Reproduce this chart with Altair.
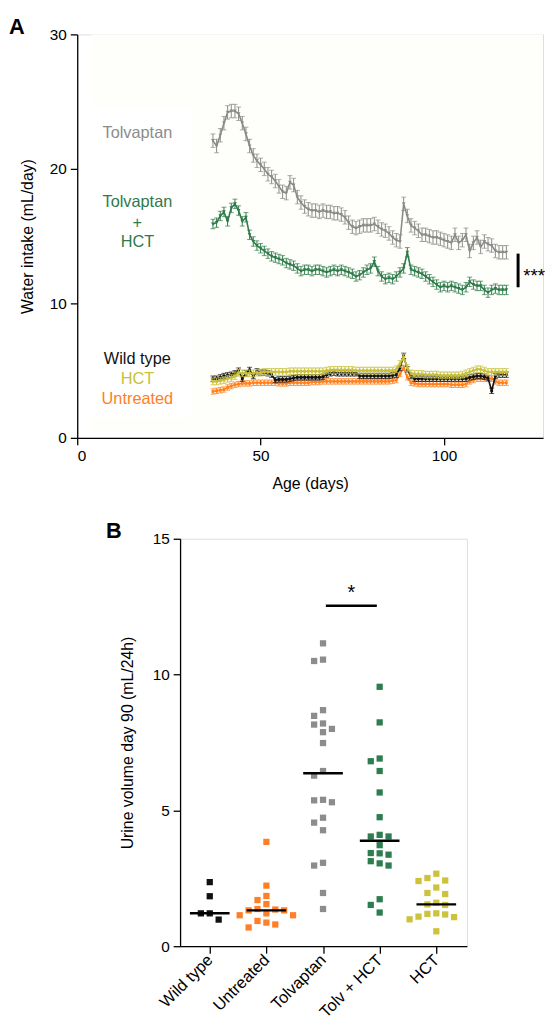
import altair as alt
import pandas as pd

FONT = "Liberation Sans"

# ---------------- Panel A data (mean water intake, mL/day) ----------------
days = list(range(37, 118))
tolvaptan = [22.1, 21.7, 22.5, 23.4, 24.2, 24.3, 24.3, 24.1, 23.4, 22.6,
             21.7, 21.0, 20.6, 20.3, 20.0, 19.6, 19.4, 19.1, 18.7, 18.3,
             18.2, 19.0, 18.8, 17.9, 17.5, 17.2, 17.0, 16.9, 16.9, 16.8,
             16.9, 16.8, 16.8, 16.7, 16.7, 16.6, 16.4, 16.0, 15.7, 15.6,
             15.7, 15.8, 15.8, 15.8, 15.9, 15.7, 15.5, 15.4, 15.2, 14.9,
             14.7, 14.6, 17.4, 16.5, 15.8, 15.6, 15.4, 15.1, 15.1, 15.0,
             14.9, 14.9, 14.8, 14.7, 14.6, 14.5, 15.1, 14.5, 14.7, 15.1,
             13.9, 14.5, 14.9, 14.2, 14.6, 14.4, 14.3, 13.9, 13.8, 13.8, 13.8]
tolv_hct = [15.9, 16.0, 16.5, 16.8, 16.1, 17.1, 17.4, 16.9, 16.1, 16.4,
            15.1, 14.6, 14.3, 14.1, 13.9, 13.7, 13.5, 13.4, 13.3, 13.2,
            13.0, 12.9, 12.8, 12.6, 12.4, 12.5, 12.5, 12.4, 12.5, 12.5,
            12.4, 12.3, 12.4, 12.5, 12.4, 12.5, 12.4, 12.3, 12.2, 12.0,
            12.1, 12.3, 12.5, 12.6, 13.1, 12.4, 12.0, 11.8, 11.9, 11.8,
            12.0, 12.3, 12.6, 13.8, 12.5, 12.4, 12.3, 12.2, 12.0, 11.8,
            11.6, 11.4, 11.2, 11.3, 11.2, 11.3, 11.2, 11.1, 11.0, 11.2,
            11.6, 11.4, 11.3, 11.3, 11.0, 10.8, 11.0, 11.1, 11.0, 11.0, 11.0]
wild_type = [4.4, 4.4, 4.5, 4.6, 4.65, 4.7, 4.8, 5.0, 4.4, 4.8,
             5.05, 4.6, 4.95, 4.85, 4.85, 4.8, 4.7, 4.3, 4.35, 4.35,
             4.35, 4.4, 4.45, 4.5, 4.5, 4.5, 4.5, 4.5, 4.5, 4.5,
             4.55, 4.7, 4.8, 4.85, 4.8, 4.8, 4.8, 4.8, 4.8, 4.8,
             4.6, 4.6, 4.6, 4.6, 4.6, 4.6, 4.6, 4.6, 4.6, 4.65,
             4.7, 5.2, 6.1, 5.1, 4.6, 4.4, 4.4, 4.4, 4.4, 4.4,
             4.4, 4.4, 4.4, 4.4, 4.4, 4.4, 4.4, 4.4, 4.4, 4.4,
             4.5, 4.55, 4.6, 4.6, 4.55, 4.45, 3.5, 4.6, 4.7, 4.7, 4.7]
hct = [4.2, 4.2, 4.25, 4.3, 4.4, 4.45, 4.6, 4.85, 4.8, 4.8,
       4.8, 4.8, 4.85, 4.85, 4.9, 4.9, 4.9, 4.9, 4.9, 4.9,
       4.9, 4.95, 4.95, 4.95, 4.95, 4.95, 4.95, 4.95, 4.95, 4.95,
       4.95, 5.0, 5.05, 5.05, 5.05, 5.05, 5.05, 5.05, 5.05, 5.0,
       5.0, 5.0, 5.0, 5.0, 5.0, 5.0, 5.0, 5.0, 5.0, 5.0,
       5.1, 5.5, 6.0, 5.2, 4.8, 4.75, 4.75, 4.75, 4.7, 4.7,
       4.7, 4.7, 4.65, 4.65, 4.65, 4.65, 4.65, 4.65, 4.7, 4.8,
       4.9, 5.0, 5.1, 5.1, 5.0, 4.9, 4.9, 4.9, 4.9, 4.9, 4.9]
untreated = [3.45, 3.5, 3.55, 3.6, 3.75, 3.85, 3.95, 4.0, 4.05, 4.05,
             4.05, 4.1, 4.1, 4.1, 4.1, 4.1, 4.1, 4.1, 4.05, 4.05,
             4.05, 4.1, 4.1, 4.1, 4.1, 4.1, 4.1, 4.15, 4.15, 4.15,
             4.2, 4.2, 4.2, 4.2, 4.2, 4.2, 4.2, 4.2, 4.2, 4.2,
             4.2, 4.2, 4.2, 4.2, 4.2, 4.2, 4.2, 4.2, 4.2, 4.25,
             4.3, 4.75, 5.2, 4.5, 4.1, 4.05, 4.0, 4.0, 4.0, 4.0,
             4.0, 4.0, 4.0, 4.0, 4.0, 3.95, 3.95, 3.95, 3.95, 4.0,
             4.2, 4.3, 4.4, 4.4, 4.4, 4.4, 4.4, 4.2, 4.1, 4.1, 4.1]
sem = {"Tolvaptan": 0.5, "Tolvaptan + HCT": 0.35, "Untreated": 0.2,
       "Wild type": 0.2, "HCT": 0.25}

# legend labels of panel A
a_label_text = ["Tolvaptan", "Tolvaptan", "+", "HCT", "Wild type", "HCT", "Untreated"]
a_label_color = ["#8c8c8c", "#2f7a4b", "#2f7a4b", "#2f7a4b", "#111111", "#c8bf3a", "#ff801f"]

# ---------------- Panel B data (urine volume day 90, mL/24h) ----------------
groups = ["Wild type", "Untreated", "Tolvaptan", "Tolv + HCT", "HCT"]
group_colors = ["#111111", "#ff7f27", "#8c8c8c", "#2e7d50", "#cdc23c"]
b_wild_type = [2.36, 1.84, 1.21, 1.21, 0.98]
b_untreated = [3.84, 2.23, 1.85, 1.70, 1.55, 1.37, 1.35, 1.32, 1.32, 1.21,
               1.14, 1.14, 0.93, 0.87, 0.80, 0.69]
b_tolvaptan = [11.15, 10.55, 10.5, 8.69, 8.48, 8.2, 8.16, 8.0, 7.88, 7.48,
               6.45, 6.28, 5.39, 5.37, 5.3, 4.73, 4.55, 4.27, 3.07, 2.97, 1.96, 1.37]
b_tolv_hct = [9.55, 8.24, 6.91, 6.81, 6.45, 5.66, 4.75, 4.1, 4.04, 4.04,
              3.72, 3.43, 3.42, 3.37, 3.13, 3.05, 2.97, 1.73, 1.52, 1.24]
b_hct = [2.67, 2.51, 2.42, 2.40, 2.16, 1.96, 1.92, 1.60, 1.54, 1.52, 1.21,
         1.19, 1.17, 1.09, 1.07, 0.99, 0.55]
b_values = [b_wild_type, b_untreated, b_tolvaptan, b_tolv_hct, b_hct]

# =========================== Panel A ===========================
AX = dict(domainColor="black", tickColor="black", domainWidth=1.3, tickWidth=1.3,
          labelColor="black", titleColor="black", labelFontSize=15.5, titleFontSize=16,
          titleFontWeight="normal", grid=False, labelFont=FONT, titleFont=FONT)

xs_a = alt.Scale(domain=[0, 127], nice=False, zero=False)
ys_a = alt.Scale(domain=[0, 30], nice=False)
x_axis_a = alt.Axis(values=[0, 50, 100], title="Age (days)", tickSize=7,
                    labelPadding=4, titlePadding=12, **AX)
y_axis_a = alt.Axis(values=[0, 10, 20, 30], title="Water intake (mL/day)", tickSize=7,
                    labelPadding=4, titlePadding=14, **AX)


def XA(field):
    return alt.X(field, scale=xs_a, axis=x_axis_a)


def YA(field):
    return alt.Y(field, scale=ys_a, axis=y_axis_a)


bg = pd.DataFrame({"x1": [3.8, 3.8], "x2": [127, 31], "y1": [0.3, 1.5], "y2": [30, 24.5],
                   "c": ["#fefefa", "#ffffff"]})
layers_a = [
    alt.Chart(bg).mark_rect().encode(x=XA("x1:Q"), x2="x2:Q", y=YA("y1:Q"), y2="y2:Q",
                                     color=alt.Color("c:N", scale=None))
]

series_specs = [
    ("Untreated", untreated, "#ff801f", "square", 8),
    ("Wild type", wild_type, "#111111", "square", 8),
    ("HCT", hct, "#c8bf3a", "square", 8),
    ("Tolvaptan + HCT", tolv_hct, "#2f7a4b", "triangle-down", 14),
    ("Tolvaptan", tolvaptan, "#8a8a8a", "triangle-down", 14),
]
for name, vals, color, shape, size in series_specs:
    df = pd.DataFrame({"day": days, "value": vals})
    df["lo"] = df["value"] - sem[name]
    df["hi"] = df["value"] + sem[name]
    base = alt.Chart(df)
    layers_a += [
        base.mark_rule(color=color, strokeWidth=1).encode(x=XA("day:Q"), y=YA("lo:Q"), y2="hi:Q"),
        base.mark_tick(color=color, orient="horizontal", size=5, thickness=1).encode(
            x=XA("day:Q"), y=YA("lo:Q")),
        base.mark_tick(color=color, orient="horizontal", size=5, thickness=1).encode(
            x=XA("day:Q"), y=YA("hi:Q")),
        base.mark_line(color=color, strokeWidth=1.6).encode(x=XA("day:Q"), y=YA("value:Q")),
        base.mark_point(color=color, filled=True, shape=shape, size=size, opacity=1).encode(
            x=XA("day:Q"), y=YA("value:Q")),
    ]

lab_a = pd.DataFrame({"t": a_label_text, "c": a_label_color,
                      "x": [16.4] * 7,
                      "y": [22.7, 17.5, 15.95, 14.55, 5.88, 4.41, 2.87]})
layers_a.append(
    alt.Chart(lab_a).mark_text(font=FONT, fontSize=16.5).encode(
        x=XA("x:Q"), y=YA("y:Q"), text="t:N", color=alt.Color("c:N", scale=None))
)
sig_a = pd.DataFrame({"x": [120.2], "y1": [11.2], "y2": [13.7], "tx": [121.6], "ty": [12.0]})
layers_a += [
    alt.Chart(sig_a).mark_rule(color="black", strokeWidth=3).encode(
        x=XA("x:Q"), y=YA("y1:Q"), y2="y2:Q"),
    alt.Chart(sig_a).mark_text(font=FONT, fontSize=19, align="left", text="***",
                               color="black").encode(x=XA("tx:Q"), y=YA("ty:Q")),
    alt.Chart(pd.DataFrame({"t": ["A"]})).mark_text(
        font=FONT, fontSize=22, fontWeight="bold", color="black").encode(
        x=alt.value(-61), y=alt.value(-7), text="t:N"),
]
panel_a = alt.layer(*layers_a).properties(width=471, height=408)

# =========================== Panel B ===========================
# simple deterministic beeswarm layout of the square markers
PX_PER_UNIT = 412 / 15.0
STEP_PX = 57.3
rows = []
for gi, (g, vals) in enumerate(zip(groups, b_values)):
    placed = []
    for v in sorted(vals, reverse=True):
        for k in [0, -1, 1, -2, 2, -3, 3]:
            off = k * 9.0
            ok = all(abs(off - po) >= 8 or abs(v - pv) * PX_PER_UNIT >= 8 for po, pv in placed)
            if ok:
                placed.append((off, v))
                break
    for off, v in placed:
        rows.append({"group": g, "idx": gi, "value": v, "xpos": gi + off / STEP_PX,
                     "c": group_colors[gi]})
df_b = pd.DataFrame(rows)

xs_b = alt.Scale(domain=[-0.524, 4.54], nice=False, zero=False)
ys_b = alt.Scale(domain=[0, 15], nice=False)
label_expr = "['Wild type','Untreated','Tolvaptan','Tolv + HCT','HCT'][datum.value]"
x_axis_b = alt.Axis(values=[0, 1, 2, 3, 4], labelExpr=label_expr, labelAngle=315,
                    labelAlign="right", labelBaseline="middle", tickSize=7, labelPadding=4,
                    title=None, labelOverlap=False, labelFlush=False,
                    **{**AX, "labelFontSize": 16.5})
y_axis_b = alt.Axis(values=[0, 5, 10, 15], title="Urine volume day 90 (mL/24h)", tickSize=7,
                    labelPadding=4, titlePadding=17, **AX)


def XB(field):
    return alt.X(field, scale=xs_b, axis=x_axis_b)


def YB(field):
    return alt.Y(field, scale=ys_b, axis=y_axis_b)


pts_b = alt.Chart(df_b).mark_square(size=40, opacity=1).encode(
    x=XB("xpos:Q"), y=YB("value:Q"), color=alt.Color("c:N", scale=None))
med_b = alt.Chart(df_b).transform_aggregate(
    med="median(value)", groupby=["idx"]
).transform_calculate(x1="datum.idx - 0.35", x2="datum.idx + 0.35").mark_rule(
    color="black", strokeWidth=2.5).encode(x=XB("x1:Q"), x2="x2:Q", y=YB("med:Q"))
sig_b = pd.DataFrame({"x1": [2.05], "x2": [2.95], "y": [12.53], "tx": [2.5], "ty": [13.0]})
sig_rule_b = alt.Chart(sig_b).mark_rule(color="black", strokeWidth=2.5).encode(
    x=XB("x1:Q"), x2="x2:Q", y=YB("y:Q"))
sig_txt_b = alt.Chart(sig_b).mark_text(font=FONT, fontSize=20, text="*", color="black",
                                       baseline="middle").encode(x=XB("tx:Q"), y=YB("ty:Q"))
b_title = alt.Chart(pd.DataFrame({"t": ["B"]})).mark_text(
    font=FONT, fontSize=22, fontWeight="bold", color="black").encode(
    x=alt.value(-67), y=alt.value(-8), text="t:N")
panel_b = alt.layer(pts_b, med_b, sig_rule_b, sig_txt_b, b_title).properties(width=290, height=412)

spacer = alt.Chart(pd.DataFrame({"a": [0]})).mark_text(text="", opacity=0).encode(
    x=alt.X("a:Q", axis=None), y=alt.Y("a:Q", axis=None)).properties(
    width=27, height=1, view=alt.ViewBackground(stroke="transparent", fill="transparent"))

chart = alt.vconcat(
    panel_a,
    alt.hconcat(spacer, panel_b, spacing=0),
    spacing=27,
).properties(
    padding={"left": 0, "top": 2, "right": 0, "bottom": 0}
).configure_view(stroke="transparent", strokeWidth=0).configure(background="white")

chart.save("out.html", embed_options={"renderer": "svg", "actions": False})
